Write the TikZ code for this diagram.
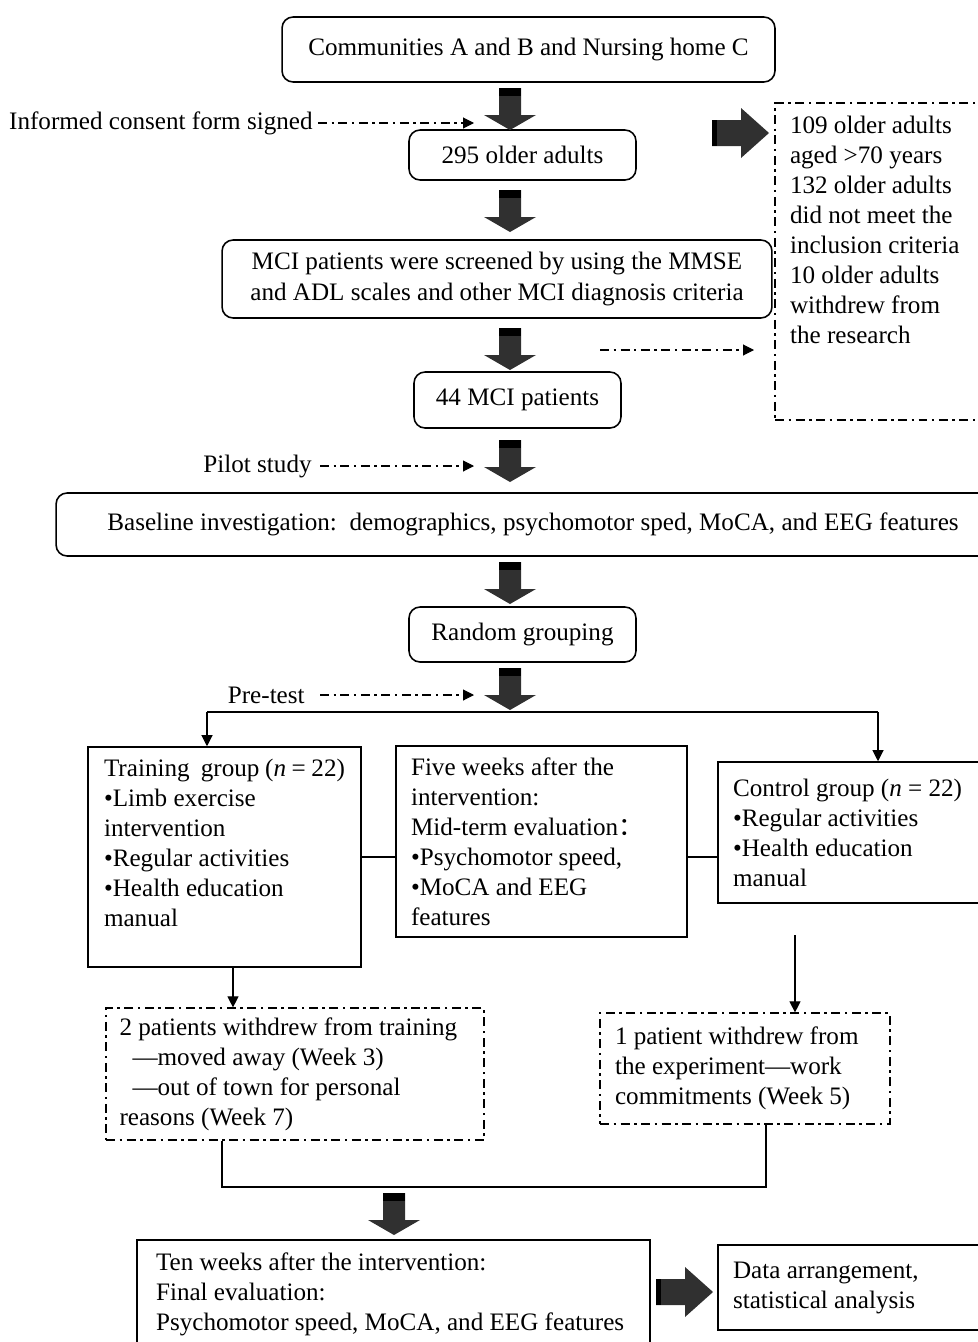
\documentclass[tikz,border=0pt]{standalone}
\usepackage{fontspec}
\setmainfont{Liberation Serif}
\newfontfamily\cjk{Noto Sans CJK SC}
\usetikzlibrary{arrows.meta, positioning, calc}
\definecolor{fatgray}{HTML}{303030}
\newcommand{\fs}{\fontsize{14.3pt}{17.1pt}\selectfont}

\begin{document}
\begin{tikzpicture}[
    x=0.02cm, y=-0.02cm,
    font=\fs,
    roundbox/.style={rectangle, rounded corners=0.22cm, draw=black, line width=0.9pt,
                     align=center, inner sep=0pt},
    plainbox/.style={rectangle, draw=black, line width=0.9pt, align=flush left,
                     inner xsep=0.3cm, inner ysep=0pt},
    dashbox/.style={plainbox, line width=0.7pt,
                    dash pattern=on 0.18cm off 0.09cm on 0.05cm off 0.09cm},
    conn/.style={line width=0.6pt},
    arr/.style={conn, -{Triangle[width=0.22cm, length=0.22cm]}},
    dasharr/.style={arr, dash pattern=on 0.18cm off 0.09cm on 0.05cm off 0.09cm},
    fatdown/.pic={
        \fill[fatgray] (-11,0) -- (11,0) -- (11,27) -- (26,27) -- (0,42)
                       -- (-26,27) -- (-11,27) -- cycle;
        \fill[black] (-11,0) rectangle (11,8);
    },
    fatright/.pic={
        \fill[fatgray] (0,-13) -- (29,-13) -- (29,-25) -- (57,0) -- (29,25)
                       -- (29,13) -- (0,13) -- cycle;
        \fill[black] (0,-13) rectangle (5,13);
    },
]
\useasboundingbox (0,0) rectangle (977,1342);

% Recruitment
\node[roundbox, minimum width=9.86cm, minimum height=1.3cm] (comm) at (528.5,49.5)
    {Communities A and B and Nursing home C};
\node[roundbox, minimum width=4.54cm, minimum height=1cm] (older) at (522.5,155)
    {295 older adults};
\node[roundbox, minimum width=11cm, minimum height=1.56cm] (mci) at (497,279)
    {MCI patients were screened by using the MMSE\\and ADL scales and other MCI diagnosis criteria};
\node[roundbox, minimum width=4.14cm, minimum height=1.12cm] (mci44) at (517.5,400)
    {44 MCI patients};
\node[roundbox, minimum width=19.08cm, minimum height=1.26cm] (base) at (533,524.5)
    {Baseline investigation:\ \ demographics, psychomotor sped, MoCA, and EEG features};
\node[roundbox, minimum width=4.54cm, minimum height=1.1cm] (rand) at (522.5,634.5)
    {Random grouping};

% Excluded
\node[dashbox, inner ysep=0.26cm] (excl) at (887.5,261.5)
    {\parbox[c][5.82cm][t]{3.9cm}{\raggedright 109 older adults\\aged >70 years\\132 older adults\\did not meet the\\inclusion criteria\\10 older adults\\withdrew from\\the research}};

% Side notes
\node[anchor=east, inner xsep=0.1cm] (consent) at (318,123) {Informed consent form signed};
\node[anchor=east, inner xsep=0.16cm] (pilot) at (320,466) {Pilot study};
\node[anchor=east, inner xsep=0.3cm] (pretest) at (320,695) {Pre-test};

% Groups
\node[plainbox, inner ysep=0.24cm, inner xsep=0.32cm] (train) at (224.5,857)
    {\parbox[c][3.92cm][t]{4.82cm}{\raggedright Training\ \ group (\textit{n} = 22)\\•Limb exercise\\intervention\\•Regular activities\\•Health education\\manual}};
\node[plainbox, text width=5.22cm, minimum height=3.82cm] (mid) at (541.5,841.5)
    {Five weeks after the\\intervention:\\Mid-term evaluation{\cjk ：}\\•Psychomotor speed,\\•MoCA and EEG\\features};
\node[plainbox, text width=5.04cm, minimum height=2.82cm] (ctrl) at (859,832.5)
    {Control group (\textit{n} = 22)\\•Regular activities\\•Health education\\manual};

% Withdrawals
\node[dashbox, text width=7.02cm, inner xsep=0.27cm, minimum height=2.64cm] (wd1) at (295,1074)
    {2 patients withdrew from training\\\hspace*{0.26cm}—moved away (Week 3)\\\hspace*{0.26cm}—out of town for personal\\reasons (Week 7)};
\node[dashbox, text width=5.2cm, minimum height=2.22cm] (wd2) at (745,1068.5)
    {1 patient withdrew from\\the experiment—work\\commitments (Week 5)};

% Final
\node[plainbox, inner ysep=0.26cm, inner xsep=0.38cm] (final) at (393.5,1305)
    {\parbox[c][2.08cm][t]{9.5cm}{\raggedright Ten weeks after the intervention:\\Final evaluation:\\Psychomotor speed, MoCA, and EEG features}};
\node[plainbox, text width=5.04cm, minimum height=1.7cm] (data) at (859,1287.5)
    {Data arrangement,\\statistical analysis};

% Fat arrows
\foreach \ytop [count=\i] in {88,190,328,440,562,668}
    \pic (fd\i) at (510,\ytop) {fatdown};
\pic (fd7) at (394,1193) {fatdown};
\pic (fr1) at (712,133) {fatright};
\pic (fr2) at (656,1292) {fatright};

% Dash-dot arrows
\coordinate (consentend) at (474,123);
\coordinate (pilotend) at (474,466);
\coordinate (pretestend) at (474,695);
\coordinate (exclstart) at (600,350);
\coordinate (exclend) at (754,350);
\draw[dasharr] (consent) -- (consentend);
\draw[dasharr] (pilot) -- (pilotend);
\draw[dasharr] (pretest) -- (pretestend);
\draw[dasharr] (exclstart) -- (exclend);

% Split into groups
\coordinate (splitL) at (207,712);
\coordinate (splitR) at (878,712);
\draw[conn] (splitL) -- (splitR);
\draw[arr] (splitL) -- (splitL |- train.north);
\draw[arr] (splitR) -- (splitR |- ctrl.north);

% Between group boxes
\draw[conn] (train.east) -- (train.east -| mid.west);
\draw[conn] (mid.east |- train.east) -- (ctrl.west |- train.east);

% Down to withdrawals
\coordinate (tdrop) at ($(train.south)+(8.5,0)$);
\coordinate (cdrop) at (795,935);
\draw[arr] (tdrop) -- (tdrop |- wd1.north);
\draw[arr] (cdrop) -- (cdrop |- wd2.north);

% Merge
\coordinate (mL) at (222,1187);
\coordinate (mR) at (766,1187);
\draw[conn] (mL |- wd1.south) -- (mL) -- (mR) -- (mR |- wd2.south);

\end{tikzpicture}
\end{document}
